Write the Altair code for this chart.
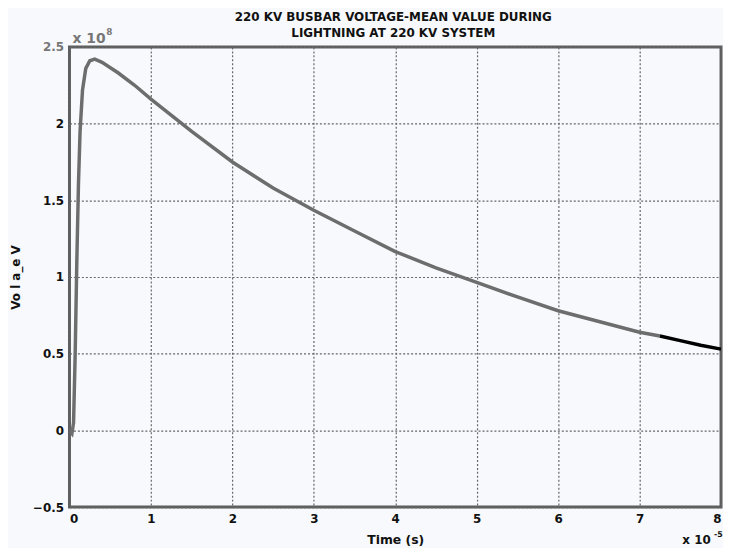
import altair as alt
import pandas as pd

# time in units of 1e-5 s, voltage in units of 1e8 V
t_main = [0.00, 0.03, 0.05, 0.07, 0.09, 0.11, 0.13, 0.16, 0.20, 0.25, 0.31, 0.40, 0.60, 0.80,
          1.00, 1.50, 2.00, 2.50, 3.00, 3.50, 4.00, 4.50, 5.00, 5.50, 6.00, 6.50, 7.00, 7.25]
v_main = [0.00, -0.02, 0.05, 0.50, 1.10, 1.60, 1.95, 2.22, 2.36, 2.41, 2.42, 2.40, 2.33, 2.25,
          2.16, 1.95, 1.75, 1.58, 1.435, 1.30, 1.166, 1.06, 0.965, 0.87, 0.78, 0.71, 0.64, 0.615]
t_tail = [7.25, 7.5, 7.75, 8.0]
v_tail = [0.615, 0.585, 0.555, 0.53]

x_ticks = [0, 1, 2, 3, 4, 5, 6, 7, 8]
y_ticks = [-0.5, 0, 0.5, 1, 1.5, 2, 2.5]
title_lines = ["220 KV  BUSBAR  VOLTAGE-MEAN VALUE DURING", "LIGHTNING AT 220 KV SYSTEM"]

df = pd.concat([
    pd.DataFrame({"t": t_main, "v": v_main, "seg": "main"}),
    pd.DataFrame({"t": t_tail, "v": v_tail, "seg": "tail"}),
])

W, H = 657, 464
FONT = "DejaVu Sans"

x_scale = alt.Scale(domain=[0, 8], nice=False, zero=False)
y_scale = alt.Scale(domain=[-0.5, 2.5], nice=False, zero=False)

line = alt.Chart(df).mark_line(strokeWidth=3.5, clip=True).encode(
    x=alt.X("t:Q", scale=x_scale,
            axis=alt.Axis(values=x_ticks, title="Time (s)", grid=True, gridDash=[2, 2],
                          gridColor="#666", gridWidth=1.2, tickSize=0, labelPadding=7,
                          labelFontSize=12, labelFontWeight="bold", labelColor="#111",
                          titleFontSize=12.5, titleFontWeight="bold", titleColor="#111",
                          titlePadding=9, domain=False, labelFont=FONT, titleFont=FONT,
                          format="~g")),
    y=alt.Y("v:Q", scale=y_scale,
            axis=alt.Axis(values=y_ticks, title="Vo l a_e V", grid=True, gridDash=[2, 2],
                          gridColor="#666", gridWidth=1.2, tickSize=0, labelPadding=6,
                          labelFontSize=12, labelFontWeight="bold",
                          labelColor={"condition": {"test": "datum.value == 2.5", "value": "#777"},
                                      "value": "#111"},
                          titleFontSize=12, titleFontWeight="bold", titleColor="#111",
                          titlePadding=10, domain=False, labelFont=FONT, titleFont=FONT,
                          format="~g")),
    color=alt.Color("seg:N", scale=alt.Scale(domain=["main", "tail"], range=["#6d6d6d", "#000000"]),
                    legend=None),
    detail="seg:N",
)

def txt(s, x, y, size, color="#111", align="left", baseline="alphabetic"):
    return alt.Chart(pd.DataFrame({"s": [s]})).mark_text(
        font=FONT, fontSize=size, fontWeight="bold", color=color, align=align, baseline=baseline
    ).encode(x=alt.value(x), y=alt.value(y), text="s:N")

title1 = txt(title_lines[0], W / 2 - 2, -30, 12, align="center", baseline="middle")
title2 = txt(title_lines[1], W / 2 - 2, -14, 12, align="center", baseline="middle")
exp_y = txt("x 10", 3, -4, 14, color="#777")
exp_y_sup = txt("8", 37, -12, 9, color="#777")
exp_x = txt("x 10", 618, H + 37, 12)
exp_x_sup = txt("-5", 650, H + 30, 8)

chart = alt.layer(line, title1, title2, exp_y, exp_y_sup, exp_x, exp_x_sup).properties(
    width=W, height=H,
    autosize=alt.AutoSizeParams(type="none"),
    padding={"left": 62, "top": 37, "right": 2, "bottom": 39},
    background="#f7f9fc",
).configure_view(stroke="#5e5e5e", strokeWidth=3)

chart.save("out.html", embed_options={"renderer": "svg", "actions": False})
